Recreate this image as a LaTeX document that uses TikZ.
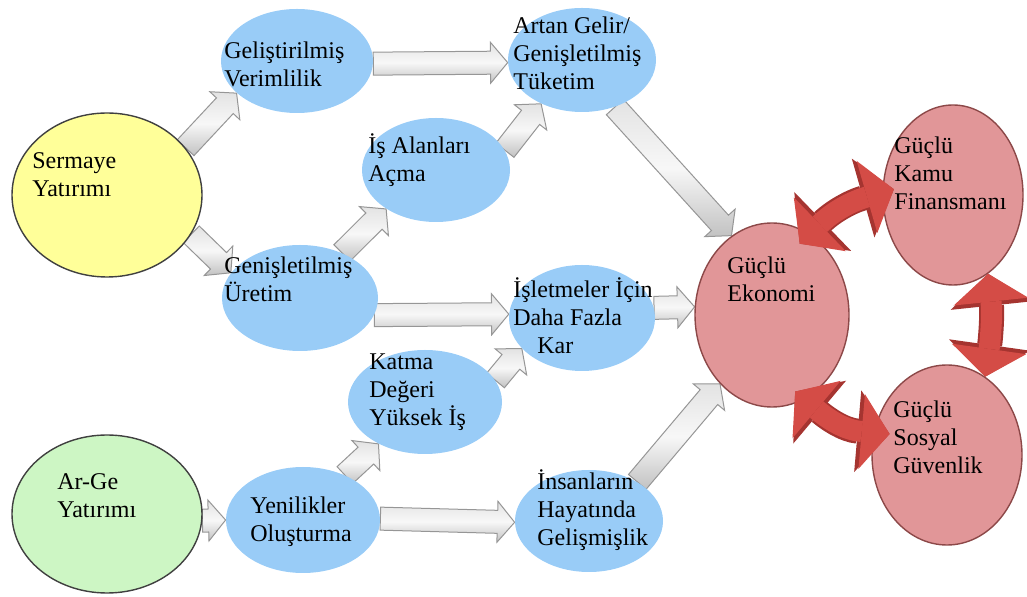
\documentclass[tikz,border=0pt]{standalone}
\usepackage{fontspec}
\setmainfont{Liberation Serif}
\usetikzlibrary{shapes.geometric,shapes.arrows,arrows.meta,calc}
\pgfdeclarelayer{edgelayer}
\pgfdeclarelayer{nodelayer}
\pgfsetlayers{edgelayer,nodelayer,main}
\definecolor{bluefill}{RGB}{153,204,247}
\definecolor{yellfill}{RGB}{255,255,153}
\definecolor{grnfill}{RGB}{205,246,196}
\definecolor{pinkfill}{RGB}{225,150,152}
\definecolor{pinkline}{RGB}{140,72,72}
\definecolor{redfill}{RGB}{212,76,70}
\definecolor{redline}{RGB}{165,52,48}
\definecolor{arrline}{RGB}{150,150,150}
\tikzset{font=\fontsize{12}{14}\selectfont}
\tikzstyle{ell}=[ellipse,inner sep=0pt,fill=bluefill]
\tikzstyle{yell}=[ellipse,inner sep=0pt,fill=yellfill,draw=black!75,line width=0.7pt]
\tikzstyle{grn}=[ellipse,inner sep=0pt,fill=grnfill,draw=black!75,line width=0.7pt]
\tikzstyle{pnk}=[ellipse,inner sep=0pt,fill=pinkfill,draw=pinkline,line width=0.7pt]
\tikzstyle{txt}=[anchor=north west,align=left,inner sep=0pt]
\tikzstyle{garr}=[single arrow,draw=arrline,line width=0.5pt,top color=gray!22,bottom color=gray!48,middle color=gray!6,inner xsep=0pt,inner ysep=5.5pt,outer sep=0pt,single arrow head extend=4.5pt,single arrow tip angle=100,anchor=tail]
\tikzstyle{rout}=[draw=redline,line width=12.5pt,arrows={Triangle[width=41pt,length=16pt,line width=0pt]-Triangle[width=41pt,length=16pt,line width=0pt]}]
\tikzstyle{rin}=[draw=redfill,line width=10.5pt,arrows={Triangle[width=37.5pt,length=14pt,line width=0pt]-Triangle[width=37.5pt,length=14pt,line width=0pt]}]
\newcommand{\garrow}[2]{\path let \p1=(#1),\p2=(#2),\n1={atan2(\y2-\y1,\x2-\x1)},\n2={veclen(\x2-\x1,\y2-\y1)} in (\p1) node[style=garr,rotate=\n1,minimum height=\n2] {};}

\begin{document}
\begin{tikzpicture}[x=0.5pt,y=-0.5pt]
	\useasboundingbox (0,0) rectangle (1027,597);
	\begin{pgfonlayer}{nodelayer}
		\node [style=yell,minimum width=95pt,minimum height=82pt] (sermaye) at (107,195) {};
		\node [style=grn,minimum width=95pt,minimum height=79pt] (arge) at (107,514) {};
		\node [style=ell,minimum width=76pt,minimum height=52pt] (verim) at (297,61) {};
		\node [style=ell,minimum width=74pt,minimum height=52pt] (isalan) at (436,170) {};
		\node [style=ell,minimum width=78pt,minimum height=53pt] (uretim) at (300,298) {};
		\node [style=ell,minimum width=77pt,minimum height=52pt] (katma) at (425,402) {};
		\node [style=ell,minimum width=77pt,minimum height=53pt] (yenilik) at (303,520) {};
		\node [style=ell,minimum width=74pt,minimum height=52pt] (gelir) at (582,60) {};
		\node [style=ell,minimum width=73pt,minimum height=53pt] (kar) at (582,318) {};
		\node [style=ell,minimum width=74pt,minimum height=51pt] (hayat) at (589,521) {};
		\node [style=pnk,minimum width=77pt,minimum height=92pt] (ekonomi) at (772,315) {};
		\node [style=pnk,minimum width=70pt,minimum height=90pt] (kamu) at (953,195) {};
		\node [style=pnk,minimum width=75pt,minimum height=90pt] (sosyal) at (947,455) {};
	\end{pgfonlayer}
	\begin{pgfonlayer}{edgelayer}
		\garrow{sermaye.31}{verim.208}
		\garrow{sermaye.335}{uretim.160}
		\garrow{verim.-2}{gelir.182}
		\garrow{uretim.47}{isalan.218}
		\garrow{isalan.16}{gelir.227}
		\garrow{uretim.347}{kar.177}
		\garrow{kar.8}{ekonomi.174}
		\garrow{katma.17}{kar.207}
		\garrow{yenilik.47}{katma.222}
		\garrow{arge.356}{yenilik.180}
		\garrow{yenilik.1}{hayat.181}
		\garrow{hayat.39}{ekonomi.233}
		\garrow{gelir.305}{ekonomi.117}
	\end{pgfonlayer}
	\draw [style=rout,shorten <=-7pt,shorten >=-6pt] (ekonomi.65) to [out=44,in=196] (kamu.178);
	\draw [style=rin,shorten <=-7pt,shorten >=-6pt] (ekonomi.65) to [out=44,in=196] (kamu.178);
	\draw [style=rout] (kamu.294) to [out=-84,in=82] (sosyal.64);
	\draw [style=rin] (kamu.294) to [out=-84,in=82] (sosyal.64);
	\draw [style=rout,shorten <=-6pt,shorten >=-8pt] (ekonomi.-69) to [out=-40,in=175] (sosyal.163);
	\draw [style=rin,shorten <=-6pt,shorten >=-8pt] (ekonomi.-69) to [out=-40,in=175] (sosyal.163);
	\node [style=txt] (sermayet) at (32,148.4) {\strut Sermaye\\Yatırımı};
	\node [style=txt] (arget) at (57,469.4) {\strut Ar-Ge\\Yatırımı};
	\node [style=txt] (verimt) at (224,38.4) {\strut Geliştirilmiş\\Verimlilik};
	\node [style=txt] (isalant) at (368,133.4) {\strut İş Alanları\\Açma};
	\node [style=txt] (uretimt) at (224,253.4) {\strut Genişletilmiş\\Üretim};
	\node [style=txt] (katmat) at (369,349.4) {\strut Katma\\Değeri\\Yüksek İş};
	\node [style=txt] (yenilikt) at (250,493.4) {\strut Yenilikler\\Oluşturma};
	\node [style=txt] (gelirt) at (513,13.4) {\strut Artan Gelir/\\Genişletilmiş\\Tüketim};
	\node [style=txt] (kart) at (513,277.4) {\strut İşletmeler İçin\\Daha Fazla\\\hspace*{12pt}Kar};
	\node [style=txt] (hayatt) at (537,469.4) {\strut İnsanların\\Hayatında\\Gelişmişlik};
	\node [style=txt] (ekonomit) at (727,253.4) {\strut Güçlü\\Ekonomi};
	\node [style=txt] (kamut) at (894,133.4) {\strut Güçlü\\Kamu\\Finansmanı};
	\node [style=txt] (sosyalt) at (893,397.4) {\strut Güçlü\\Sosyal\\Güvenlik};
\end{tikzpicture}
\end{document}
